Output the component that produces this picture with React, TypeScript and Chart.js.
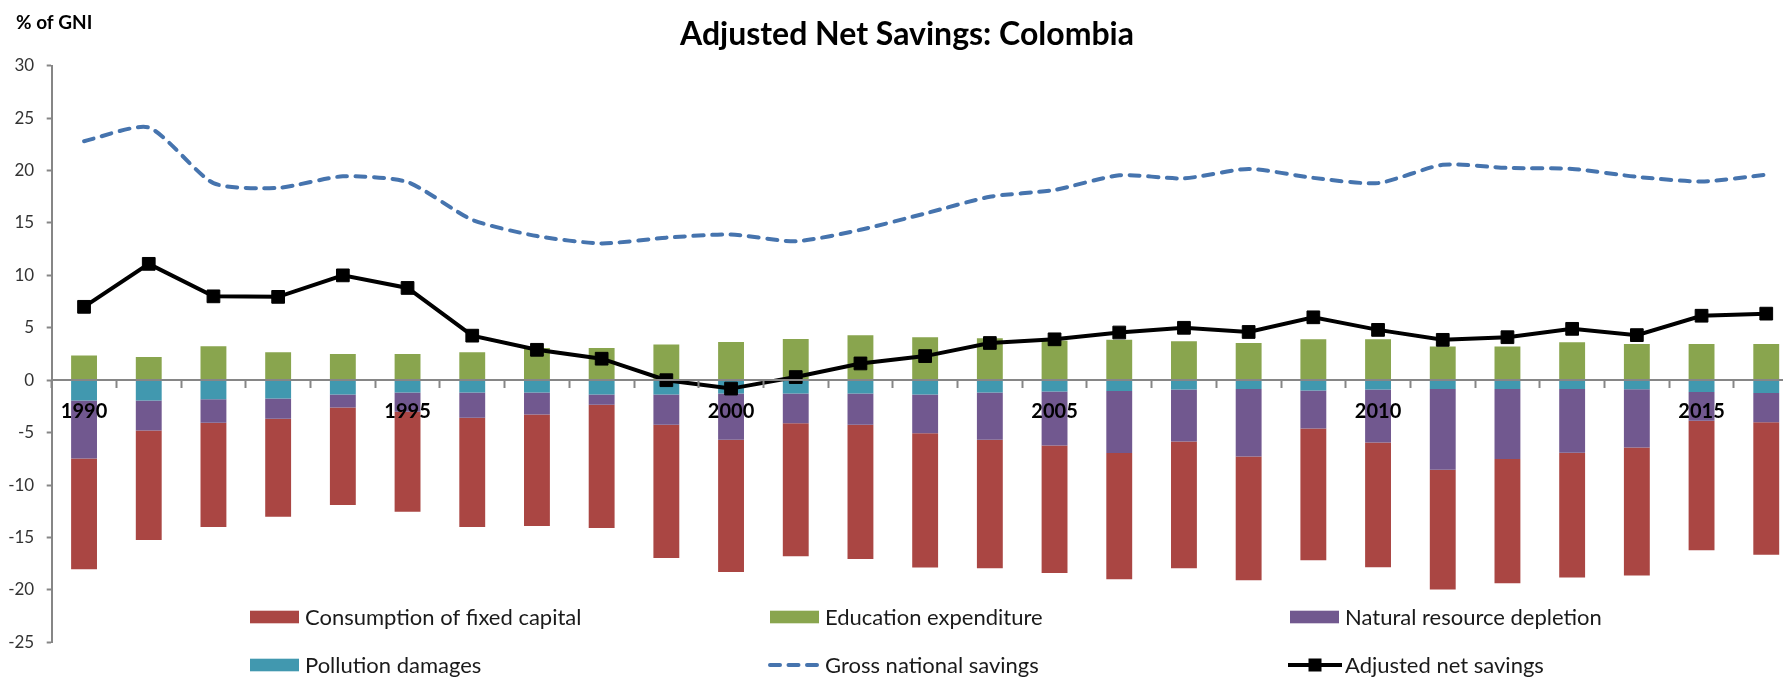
import React, { useEffect, useRef } from 'react';
import { Chart, registerables } from 'chart.js';

Chart.register(...registerables);

const TITLE = 'Adjusted Net Savings: Colombia';
const Y_TITLE = '% of GNI';

const years = [
  '1990', '1991', '1992', '1993', '1994', '1995', '1996', '1997', '1998', '1999',
  '2000', '2001', '2002', '2003', '2004', '2005', '2006', '2007', '2008', '2009',
  '2010', '2011', '2012', '2013', '2014', '2015', '2016',
];

const yTicks = [-25, -20, -15, -10, -5, 0, 5, 10, 15, 20, 25, 30];

const educationExpenditure = [
  2.35, 2.22, 3.24, 2.67, 2.51, 2.51, 2.67, 3.08, 3.08, 3.4,
  3.65, 3.94, 4.29, 4.1, 4.0, 3.78, 3.87, 3.71, 3.56, 3.9,
  3.9, 3.21, 3.21, 3.62, 3.46, 3.45, 3.45,
];

const pollutionDamages = [
  -1.94, -1.94, -1.81, -1.75, -1.37, -1.17, -1.17, -1.17, -1.37, -1.37,
  -1.27, -1.27, -1.27, -1.37, -1.17, -1.08, -1.02, -0.89, -0.83, -0.98,
  -0.89, -0.83, -0.83, -0.83, -0.87, -1.12, -1.22,
];

const naturalResourceDepletion = [
  -5.52, -2.85, -2.25, -1.93, -1.23, -1.83, -2.42, -2.1, -0.98, -2.88,
  -4.41, -2.83, -2.98, -3.68, -4.51, -5.14, -5.93, -4.95, -6.44, -3.62,
  -5.05, -7.71, -6.69, -6.09, -5.56, -2.75, -2.8,
];

const consumptionOfFixedCapital = [
  -10.57, -10.45, -9.94, -9.34, -9.3, -9.54, -10.41, -10.63, -11.75, -12.7,
  -12.61, -12.69, -12.8, -12.82, -12.26, -12.16, -12.03, -12.1, -11.81, -12.57,
  -11.9, -11.43, -11.85, -11.91, -12.19, -12.35, -12.63,
];

const grossNationalSavings = [
  22.8, 24.1, 18.8, 18.35, 19.45, 18.9, 15.3, 13.75, 13.05, 13.6,
  13.9, 13.25, 14.35, 15.9, 17.5, 18.15, 19.55, 19.25, 20.15, 19.3,
  18.8, 20.55, 20.25, 20.15, 19.4, 18.95, 19.6,
];

const adjustedNetSavings = [
  7.0, 11.1, 8.0, 7.95, 10.0, 8.8, 4.25, 2.9, 2.05, 0.0,
  -0.8, 0.3, 1.6, 2.3, 3.55, 3.9, 4.55, 5.0, 4.6, 6.0,
  4.8, 3.85, 4.1, 4.9, 4.3, 6.15, 6.35,
];

const C_CFC = '#AA4643';
const C_EDU = '#89A54E';
const C_NRD = '#71588F';
const C_POL = '#4198AF';
const C_GNS = '#4674AE';
const C_ANS = '#000000';
const AXIS = '#868686';
const FONT = 'Lato';

const CW = 1814;
const CH = 677;

const overlayPlugin = {
  id: 'overlay',
  afterDraw(chart: any) {
    const ctx = chart.ctx as CanvasRenderingContext2D;
    ctx.save();
    ctx.fillStyle = '#000';
    ctx.textAlign = 'center';
    ctx.textBaseline = 'alphabetic';
    ctx.font = `bold 32px ${FONT}`;
    ctx.fillText(TITLE, 907, 45);
    ctx.textAlign = 'left';
    ctx.font = `bold 19px ${FONT}`;
    ctx.fillText(Y_TITLE, 16, 28.5);

    const ds = chart.data.datasets;
    const byLabel = (l: string) => ds.find((d: any) => d.label === l);
    const order = [
      'Consumption of fixed capital',
      'Education expenditure',
      'Natural resource depletion',
      'Pollution damages',
      'Gross national savings',
      'Adjusted net savings',
    ];
    const colX = [250, 770, 1290];
    const rowY = [617, 665];
    ctx.font = `22px ${FONT}`;
    ctx.textBaseline = 'middle';
    order.forEach((label, i) => {
      const d: any = byLabel(label);
      const x = colX[i % 3];
      const y = rowY[Math.floor(i / 3)];
      if (d.type === 'line') {
        ctx.save();
        ctx.strokeStyle = d.borderColor;
        ctx.lineWidth = 4;
        if (d.borderDash && d.borderDash.length) {
          ctx.setLineDash(d.borderDash);
          ctx.lineCap = 'round';
          ctx.beginPath();
          ctx.moveTo(x + 0, y);
          ctx.lineTo(x + 50, y);
          ctx.stroke();
        } else {
          ctx.beginPath();
          ctx.moveTo(x - 2, y);
          ctx.lineTo(x + 52, y);
          ctx.stroke();
          ctx.fillStyle = d.pointBackgroundColor;
          ctx.fillRect(x + 25 - 6.5, y - 6.5, 13, 13);
        }
        ctx.restore();
      } else {
        ctx.fillStyle = d.backgroundColor;
        ctx.fillRect(x, y - 6.3, 49, 12.6);
      }
      ctx.fillStyle = '#1a1a1a';
      ctx.fillText(label, x + 55, y + 1);
    });
    ctx.restore();
  },
};

export default function App() {
  const ref = useRef<HTMLCanvasElement>(null);

  useEffect(() => {
    document.body.style.margin = '0';
    document.body.style.overflow = 'hidden';
    const canvas = ref.current;
    if (!canvas) return;
    const chart = new Chart(canvas, {
      type: 'bar',
      data: {
        labels: years,
        datasets: [
          {
            type: 'line',
            label: 'Adjusted net savings',
            data: adjustedNetSavings,
            stack: 'ans',
            borderColor: C_ANS,
            borderWidth: 4,
            pointStyle: 'rect',
            pointRadius: 9,
            pointBorderWidth: 1,
            pointBackgroundColor: C_ANS,
            pointBorderColor: C_ANS,
            tension: 0,
            order: 0,
          } as any,
          {
            type: 'line',
            label: 'Gross national savings',
            data: grossNationalSavings,
            stack: 'gns',
            borderColor: C_GNS,
            borderWidth: 4,
            borderDash: [10, 8.5],
            borderCapStyle: 'round',
            pointRadius: 0,
            tension: 0.22,
            order: 1,
          } as any,
          {
            label: 'Pollution damages',
            data: pollutionDamages,
            backgroundColor: C_POL,
            stack: 'bars',
            order: 2,
          },
          {
            label: 'Natural resource depletion',
            data: naturalResourceDepletion,
            backgroundColor: C_NRD,
            stack: 'bars',
            order: 2,
          },
          {
            label: 'Consumption of fixed capital',
            data: consumptionOfFixedCapital,
            backgroundColor: C_CFC,
            stack: 'bars',
            order: 2,
          },
          {
            label: 'Education expenditure',
            data: educationExpenditure,
            backgroundColor: C_EDU,
            stack: 'bars',
            order: 2,
          },
        ],
      },
      options: {
        responsive: false,
        animation: false,
        devicePixelRatio: 1,
        datasets: {
          bar: { barPercentage: 0.4, categoryPercentage: 1, borderWidth: 0 },
        },
        layout: { padding: { top: 65.7, bottom: 34.7, left: 0, right: 15.4 } },
        plugins: {
          legend: { display: false },
          title: { display: false },
          tooltip: { enabled: false },
        },
        scales: {
          x: {
            type: 'category',
            stacked: true,
            position: { y: 0 } as any,
            offset: true,
            grid: {
              display: true,
              drawOnChartArea: false,
              drawTicks: true,
              tickLength: 7,
              tickWidth: 2,
              tickColor: AXIS,
              offset: true,
              z: 1,
            },
            border: { display: true, color: AXIS, width: 2, z: 1 },
            ticks: {
              z: 2,
              autoSkip: false,
              maxRotation: 0,
              minRotation: 0,
              padding: 12,
              color: '#000',
              font: { family: FONT, weight: 'bold', size: 20 },
              callback: function (this: any, v: any) {
                const l = this.getLabelForValue(v);
                return Number(l) % 5 === 0 ? l : '';
              },
            },
          },
          y: {
            stacked: true,
            min: yTicks[0],
            max: yTicks[yTicks.length - 1],
            afterBuildTicks: (s: any) => {
              s.ticks = yTicks.map((v) => ({ value: v }));
            },
            afterFit: (s: any) => {
              s.width = 51.7;
            },
            grid: {
              display: true,
              drawOnChartArea: false,
              drawTicks: true,
              tickLength: 5,
              tickWidth: 2,
              tickColor: AXIS,
            },
            border: { display: true, color: AXIS, width: 2 },
            ticks: {
              padding: 12.5,
              color: '#333',
              font: { family: FONT, size: 17 },
            },
          },
        },
      } as any,
      plugins: [overlayPlugin],
    });
    return () => chart.destroy();
  }, []);

  return (
    <div style={{ width: 1783, height: 677, overflow: 'hidden', position: 'relative' }}>
      <div style={{ width: CW, height: CH }}>
        <canvas ref={ref} width={CW} height={CH} style={{ display: 'block', width: CW, height: CH }} />
      </div>
    </div>
  );
}
